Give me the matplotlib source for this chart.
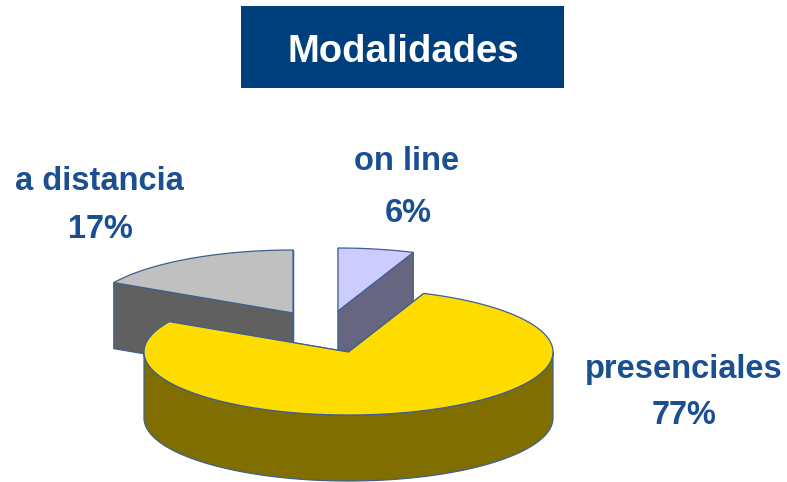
import numpy as np
import matplotlib
matplotlib.use("Agg")
import matplotlib.pyplot as plt
from matplotlib.patches import Polygon, Rectangle

title = "Modalidades"
labels = ["on line", "presenciales", "a distancia"]
values = [6, 77, 17]
top_colors = ["#CCCCFF", "#FFDC00", "#C0C0C0"]
side_colors = ["#666680", "#806E00", "#606060"]
centers = [(338, 311), (348.5, 352), (293, 313)]
name_pos = [(407, 170), (684, 378), (99, 190)]
value_pos = [(408, 222), (684, 424), (100, 238)]
draw_order = [2, 0, 1]

RX, RY, DEPTH = 204.5, 63, 66
NAVY = "#003F7D"
EDGE = "#3F5F90"
LABEL = "#1A4F92"

plt.rcParams["font.family"] = ["Liberation Sans", "DejaVu Sans"]
W, H = 787, 482
fig = plt.figure(figsize=(W / 100, H / 100), dpi=100)
ax = fig.add_axes([0, 0, 1, 1])
ax.set_xlim(0, W)
ax.set_ylim(H, 0)
ax.axis("off")

fractions = np.array(values, dtype=float) / sum(values)
ends = np.cumsum(fractions) * 2 * np.pi
starts = ends - fractions * 2 * np.pi


def rim(c, a0, a1):
    t = np.linspace(a0, a1, 200)
    return np.column_stack([c[0] + RX * np.sin(t), c[1] - RY * np.cos(t)])


def face(points, color):
    ax.add_patch(Polygon(points, closed=True, facecolor=color, edgecolor=EDGE,
                         linewidth=0.9, joinstyle="round"))


for i in draw_order:
    c, a0, a1 = centers[i], starts[i], ends[i]
    top = rim(c, a0, a1)
    tip = np.array(c, dtype=float)
    down = np.array([0, DEPTH])
    for end in (top[0], top[-1]):
        face([tip, end, end + down, tip + down], side_colors[i])
    lo = max(a0, np.pi / 2)
    hi = min(a1, 3 * np.pi / 2)
    if hi > lo:
        front = rim(c, lo, hi)
        face(np.vstack([front, (front + down)[::-1]]), side_colors[i])
    face(np.vstack([tip, top]), top_colors[i])

ax.add_patch(Rectangle((241, 6), 323, 82, facecolor=NAVY, edgecolor="none"))
ax.text(403, 62, title, color="white", fontsize=27.5, fontweight="bold",
        ha="center", va="baseline")

for name, value, p, q in zip(labels, values, name_pos, value_pos):
    ax.text(p[0], p[1], name, color=LABEL, fontsize=23.5, fontweight="bold",
            ha="center", va="baseline")
    ax.text(q[0], q[1], f"{value}%", color=LABEL, fontsize=23.5, fontweight="bold",
            ha="center", va="baseline")

fig.savefig("out.png", dpi=100)
